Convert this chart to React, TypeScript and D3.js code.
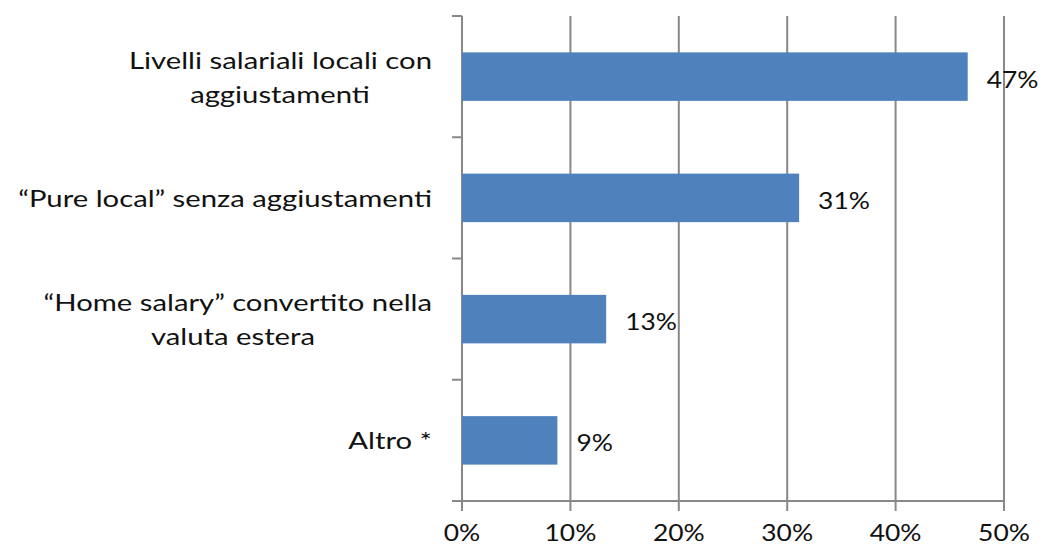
import React from "react";
import * as d3 from "d3";

const categories = [
  "Livelli salariali locali con aggiustamenti",
  "“Pure local” senza aggiustamenti",
  "“Home salary” convertito nella valuta estera",
  "Altro *",
];
const categoryLines = [
  ["Livelli salariali locali con", "aggiustamenti"],
  ["“Pure local” senza aggiustamenti"],
  ["“Home salary” convertito nella", "valuta estera"],
  ["Altro *"],
];
const values = [0.4665, 0.311, 0.133, 0.088];
const valueLabels = ["47%", "31%", "13%", "9%"];
const xTicks = [0, 0.1, 0.2, 0.3, 0.4, 0.5];
const xTickLabels = ["0%", "10%", "20%", "30%", "40%", "50%"];

const W = 1045;
const H = 548;
const FONT = "Lato, 'Open Sans', sans-serif";
const FS = 24;
const GRID = "#888888";
const BAR = "#4F81BD";
const SX_TEXT = 1.22;
const SX_NUM = 1.1;

function T({ x, y, sx, anchor, children }: { x: number; y: number; sx: number; anchor: string; children: React.ReactNode }) {
  return (
    <text transform={`translate(${x},${y}) scale(${sx},1)`} textAnchor={anchor} fontFamily={FONT} fontSize={FS} fill="#111">
      {children}
    </text>
  );
}

export default function App() {
  const x = d3.scaleLinear().domain([0, 0.5]).range([462, 1004]);
  const y = d3.scaleBand<string>().domain(categories).range([16, 501]).paddingInner(0.6).paddingOuter(0.3);
  const step = y.step();
  const top = 16;
  const bottom = 501;
  const labelRight = 432;
  const secondLineCenter: (number | null)[] = [280, null, 233, null];

  return (
    <svg width={W} height={H} style={{ position: "absolute", left: 0, top: 0, background: "#fff" }}>
      {xTicks.slice(1).map((t, i) => (
        <line key={"g" + i} x1={x(t)} x2={x(t)} y1={top} y2={bottom} stroke={GRID} strokeWidth={2} />
      ))}
      <line x1={x(0)} x2={x(0)} y1={top} y2={bottom} stroke={GRID} strokeWidth={2} />
      {categories.map((c, i) => (
        <line key={"yt" + i} x1={x(0) - 10} x2={x(0)} y1={top + i * step} y2={top + i * step} stroke={GRID} strokeWidth={2} />
      ))}
      <line x1={x(0) - 10} x2={x(0.5)} y1={bottom} y2={bottom} stroke={GRID} strokeWidth={2} />
      {xTicks.map((t, i) => (
        <line key={"xt" + i} x1={x(t)} x2={x(t)} y1={bottom} y2={bottom + 10} stroke={GRID} strokeWidth={2} />
      ))}
      {xTicks.map((t, i) => (
        <T key={"xl" + i} x={x(t)} y={541} sx={SX_NUM} anchor="middle">
          {xTickLabels[i]}
        </T>
      ))}
      {categories.map((c, i) => (
        <rect key={"b" + i} x={x(0)} y={y(c)} width={x(values[i]) - x(0)} height={y.bandwidth()} fill={BAR} />
      ))}
      {categories.map((c, i) => (
        <T key={"v" + i} x={x(values[i]) + 19} y={(y(c) as number) + y.bandwidth() / 2 + 11} sx={SX_NUM} anchor="start">
          {valueLabels[i]}
        </T>
      ))}
      {categories.map((c, i) => {
        const lines = categoryLines[i];
        const cy = (y(c) as number) + y.bandwidth() / 2;
        const lh = 34;
        return lines.map((ln, j) => {
          const by = cy + 9 + (j - (lines.length - 1) / 2) * lh;
          if (j === 0) {
            return (
              <T key={"c" + i + j} x={labelRight} y={by} sx={SX_TEXT} anchor="end">
                {ln}
              </T>
            );
          }
          return (
            <T key={"c" + i + j} x={secondLineCenter[i] ?? labelRight} y={by} sx={SX_TEXT} anchor="middle">
              {ln}
            </T>
          );
        });
      })}
    </svg>
  );
}
